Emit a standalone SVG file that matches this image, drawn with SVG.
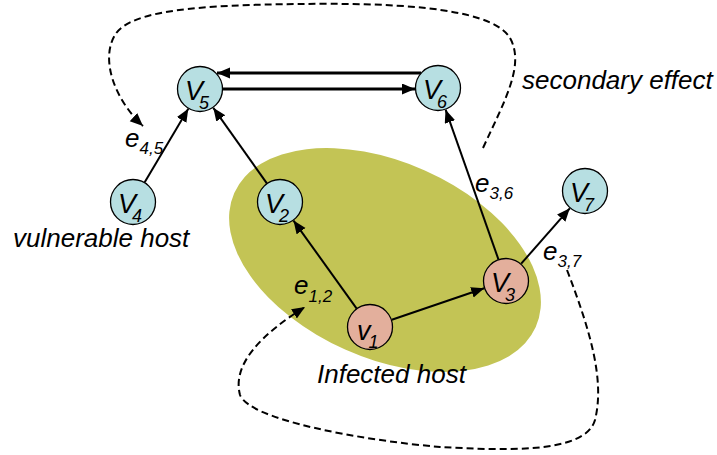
<svg xmlns="http://www.w3.org/2000/svg" width="717" height="455" viewBox="0 0 717 455">
  <style>
    text { font-family: "Liberation Sans", Arial, sans-serif; font-style: italic; fill: #000; }
    .lbl { font-size: 26px; }
    .nv { font-size: 27px; }
    .sub { font-size: 17px; }
    .nsub { font-size: 18px; }
    .node { stroke: #000; stroke-width: 1.3; }
    .clean { fill: #B7DFE2; }
    .infected { fill: #E3AF9C; }
    .edge { stroke: #000; stroke-width: 2; fill: none; marker-end: url(#arrow); }
    .edge.heavy { stroke-width: 3; }
    .effect { stroke: #000; stroke-width: 2; fill: none; stroke-dasharray: 7 4; }
  </style>
  <defs>
    <marker id="arrow" markerUnits="userSpaceOnUse" markerWidth="14" markerHeight="12" refX="13" refY="5.5" orient="auto">
      <path d="M0,0 L13,5.5 L0,11 z" fill="#000"/>
    </marker>
  </defs>

  <!-- infected region -->
  <g id="infected-region">
    <ellipse cx="385" cy="260" rx="165" ry="98" transform="rotate(24 385 260)" fill="#C3C455"/>
  </g>

  <!-- connectors -->
  <g id="connectors">
    <line class="edge" x1="144.7" y1="182.2" x2="188.3" y2="108.8"/>
    <line class="edge" x1="266.7" y1="183.2" x2="213.3" y2="107.8"/>
    <line class="edge heavy" x1="421" y1="73" x2="217" y2="73"/>
    <line class="edge heavy" x1="223" y1="89" x2="415" y2="89"/>
    <line class="edge" x1="356.5" y1="308.4" x2="293.5" y2="220.6"/>
    <line class="edge" x1="391.8" y1="319.8" x2="484.2" y2="288.2"/>
    <line class="edge" x1="498.4" y1="259.3" x2="445.6" y2="109.7"/>
    <line class="edge" x1="521.2" y1="263.7" x2="569.8" y2="208.3"/>
    <!-- secondary effect paths -->
    <path class="effect" marker-end="url(#arrow)" d="M483,148 C505,100 525,65 510,38 C490,5 380,3 300,4 C200,5 130,10 115,35 C100,60 115,100 143,126"/>
    <path class="effect" marker-end="url(#arrow)" d="M567,270 C590,330 605,380 595,420 C585,455 500,450 440,447 C360,440 250,420 240,395 C232,365 260,335 305,307"/>
  </g>

  <!-- nodes -->
  <g id="v5">
    <circle class="node clean" cx="200" cy="89" r="22.5"/>
    <text class="nv" x="185" y="100">V<tspan class="nsub" dx="-4" dy="9">5</tspan></text>
  </g>
  <g id="v6">
    <circle class="node clean" cx="438" cy="88" r="22.5"/>
    <text class="nv" x="423" y="99">V<tspan class="nsub" dx="-4" dy="9">6</tspan></text>
  </g>
  <g id="v4">
    <circle class="node clean" cx="133" cy="202" r="22.5"/>
    <text class="nv" x="118" y="213">V<tspan class="nsub" dx="-4" dy="9">4</tspan></text>
  </g>
  <g id="v2">
    <circle class="node clean" cx="280" cy="202" r="22.5"/>
    <text class="nv" x="265" y="213">V<tspan class="nsub" dx="-4" dy="9">2</tspan></text>
  </g>
  <g id="v7">
    <circle class="node clean" cx="585" cy="191" r="22.5"/>
    <text class="nv" x="570" y="202">V<tspan class="nsub" dx="-4" dy="9">7</tspan></text>
  </g>
  <g id="v3">
    <circle class="node infected" cx="506" cy="281" r="22.5"/>
    <text class="nv" x="491" y="292">V<tspan class="nsub" dx="-4" dy="9">3</tspan></text>
  </g>
  <g id="v1">
    <circle class="node infected" cx="370" cy="327" r="22.5"/>
    <text class="nv" x="357" y="340">v<tspan class="nsub" dx="-2" dy="8">1</tspan></text>
  </g>

  <!-- edge labels -->
  <text class="lbl" x="125" y="147">e<tspan class="sub" dy="7">4,5</tspan></text>
  <text class="lbl" x="475" y="192">e<tspan class="sub" dy="7">3,6</tspan></text>
  <text class="lbl" x="543" y="260">e<tspan class="sub" dy="7">3,7</tspan></text>
  <text class="lbl" x="294" y="294">e<tspan class="sub" dy="8">1,2</tspan></text>

  <!-- annotations -->
  <text class="lbl" x="522" y="89">secondary effect</text>
  <text class="lbl" x="13" y="247">vulnerable host</text>
  <text class="lbl" x="317" y="383">Infected host</text>
</svg>
